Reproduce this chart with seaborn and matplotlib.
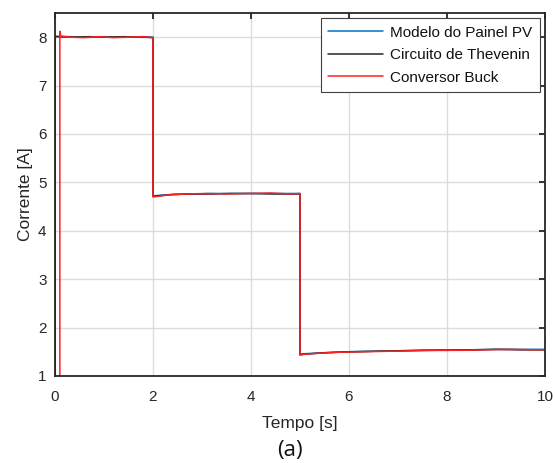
import pandas as pd
import matplotlib
matplotlib.use("Agg")
import matplotlib.pyplot as plt
import seaborn as sns

# pontos (tempo em s, corrente em A)
t_pv = [0.0, 0.0, 0.3, 0.7, 1.0, 1.4, 1.8, 2.0, 2.0, 2.1, 2.4, 2.8, 3.2, 3.6, 4.0, 4.5, 5.0,
        5.0, 5.1, 5.5, 6.0, 6.5, 7.0, 7.5, 8.0, 8.5, 9.0, 9.5, 10.0]
i_pv = [1.0, 8.02, 8.01, 8.0, 8.01, 8.0, 8.01, 8.0, 4.72, 4.73, 4.75, 4.76, 4.77, 4.77, 4.77, 4.77, 4.77,
        1.45, 1.46, 1.48, 1.50, 1.51, 1.52, 1.53, 1.54, 1.54, 1.55, 1.55, 1.55]

t_th = [0.0, 0.0, 0.3, 0.7, 1.0, 1.4, 1.8, 2.0, 2.0, 2.1, 2.4, 2.8, 3.2, 3.6, 4.0, 4.5, 5.0,
        5.0, 5.1, 5.5, 6.0, 6.5, 7.0, 7.5, 8.0, 8.5, 9.0, 9.5, 10.0]
i_th = [1.0, 8.01, 8.0, 8.01, 8.0, 8.01, 8.0, 7.99, 4.71, 4.72, 4.75, 4.76, 4.76, 4.77, 4.77, 4.76, 4.76,
        1.44, 1.45, 1.48, 1.50, 1.51, 1.52, 1.53, 1.53, 1.54, 1.55, 1.54, 1.54]

t_buck = [0.1, 0.1, 0.12, 0.3, 0.6, 0.9, 1.2, 1.5, 1.8, 2.0, 2.0, 2.1, 2.3, 2.7, 3.1, 3.5, 4.0, 4.4, 4.8, 5.0,
          5.0, 5.1, 5.4, 5.8, 6.3, 6.8, 7.3, 7.8, 8.3, 8.8, 9.3, 9.8, 10.0]
i_buck = [1.0, 8.12, 8.02, 8.0, 7.99, 8.01, 7.99, 8.0, 8.01, 7.99, 4.70, 4.71, 4.74, 4.76, 4.77, 4.76, 4.77, 4.78, 4.76, 4.77,
          1.43, 1.45, 1.47, 1.49, 1.50, 1.51, 1.52, 1.53, 1.53, 1.54, 1.55, 1.54, 1.54]

series = ["Modelo do Painel PV", "Circuito de Thevenin", "Conversor Buck"]
colors = ["#0072BD", "#262626", "#FF2020"]

df = pd.concat([
    pd.DataFrame({"t": t_pv, "i": i_pv, "serie": series[0]}),
    pd.DataFrame({"t": t_th, "i": i_th, "serie": series[1]}),
    pd.DataFrame({"t": t_buck, "i": i_buck, "serie": series[2]}),
], ignore_index=True)

sns.set_style("whitegrid")
plt.rcParams["font.family"] = ["Liberation Sans", "DejaVu Sans"]

fig, ax = plt.subplots(figsize=(5.55, 4.63), dpi=100)
fig.subplots_adjust(left=0.099, right=0.982, top=0.972, bottom=0.188)

sns.lineplot(data=df, x="t", y="i", hue="serie", hue_order=series,
             palette=dict(zip(series, colors)), estimator=None, sort=False,
             linewidth=1.1, ax=ax)

ax.set_xlim(0, 10)
ax.set_ylim(1, 8.5)
ax.set_xticks([0, 2, 4, 6, 8, 10])
ax.set_yticks([1, 2, 3, 4, 5, 6, 7, 8])
ax.grid(True, color="#dcdcdc", linewidth=1.0)
for s in ax.spines.values():
    s.set_color("#262626")
    s.set_linewidth(1.3)
ax.tick_params(direction="in", length=4, width=1.3, colors="#262626",
               top=True, right=True, labelsize=11)
ax.tick_params(axis="x", pad=10)
ax.tick_params(axis="y", pad=6)
for lab in ax.get_xticklabels() + ax.get_yticklabels():
    lab.set_color("#262626")

ax.set_xlabel("Tempo [s]", fontsize=12.5, color="#262626", labelpad=9)
ax.set_ylabel("Corrente [A]", fontsize=12.5, color="#262626", labelpad=4)

leg = ax.legend(loc="upper right", fontsize=11, frameon=True, fancybox=False,
                edgecolor="#404040", framealpha=1, borderaxespad=0.33,
                handlelength=3.6, handletextpad=0.45, labelspacing=0.56, borderpad=0.5)
leg.get_frame().set_linewidth(0.8)
for h in leg.get_lines():
    h.set_linewidth(1.1)
for tx in leg.get_texts():
    tx.set_color("#111111")

fig.text(0.523, 0.026, "(a)", ha="center", va="center", fontsize=16,
         family=["Open Sans", "DejaVu Sans"], color="#111111")

fig.savefig("out.png", dpi=100)
